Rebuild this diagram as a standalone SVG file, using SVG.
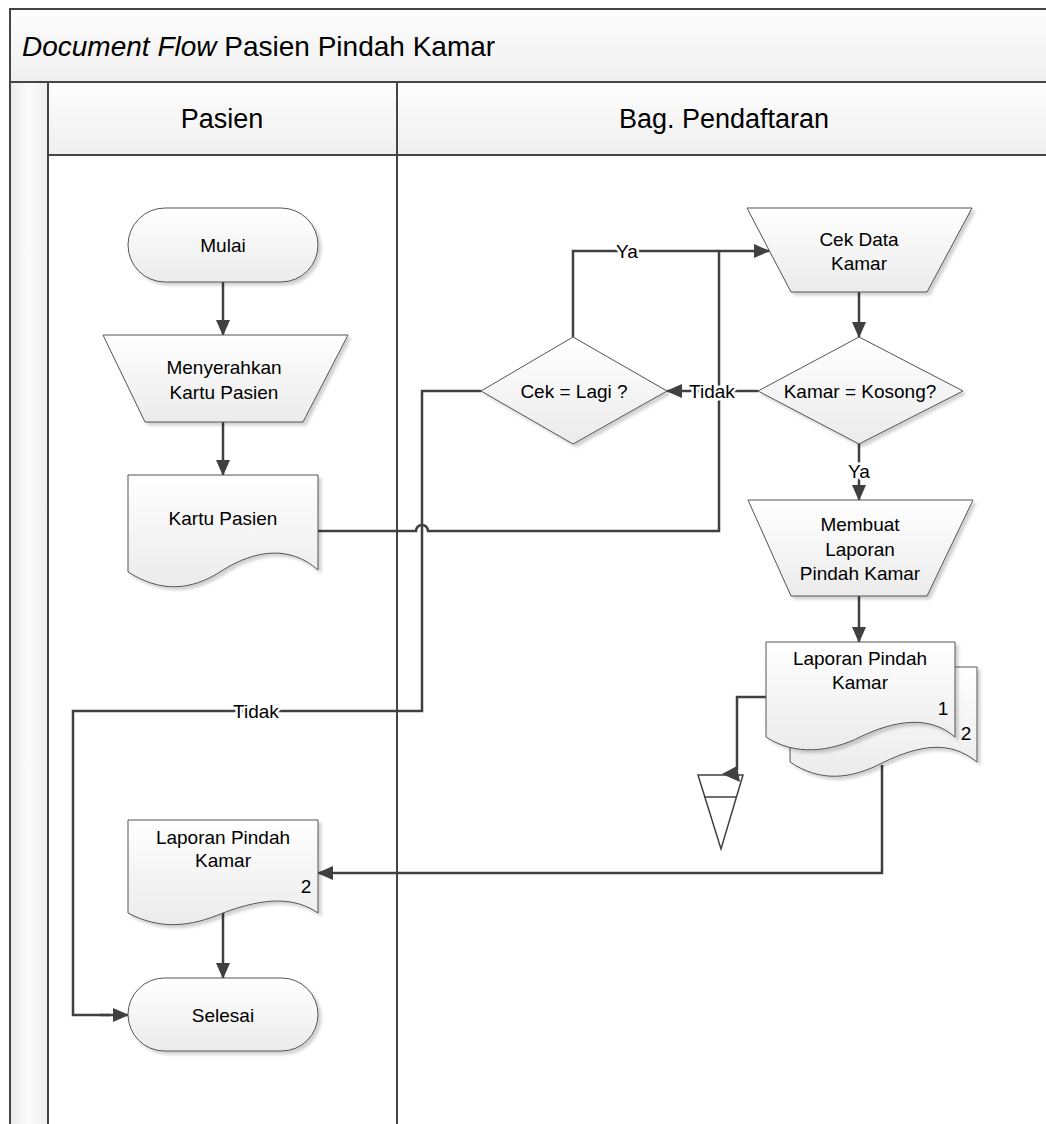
<svg xmlns="http://www.w3.org/2000/svg" width="1046" height="1124" viewBox="0 0 1046 1124">
<defs>
  <linearGradient id="gNode" x1="0" y1="0" x2="0" y2="1">
    <stop offset="0" stop-color="#ffffff"/>
    <stop offset="1" stop-color="#ebebeb"/>
  </linearGradient>
  <linearGradient id="gBand" x1="0" y1="0" x2="0" y2="1">
    <stop offset="0" stop-color="#fdfdfd"/>
    <stop offset="1" stop-color="#efefef"/>
  </linearGradient>
  <linearGradient id="gStrip" x1="0" y1="0" x2="1" y2="0">
    <stop offset="0" stop-color="#ebebeb"/>
    <stop offset="0.5" stop-color="#fbfbfb"/>
    <stop offset="1" stop-color="#efefef"/>
  </linearGradient>
  <filter id="shadow" x="-10%" y="-10%" width="125%" height="130%">
    <feDropShadow dx="3" dy="3" stdDeviation="1.5" flood-color="#000" flood-opacity="0.18"/>
  </filter>
  <marker id="arr" markerUnits="userSpaceOnUse" markerWidth="16" markerHeight="14" refX="15" refY="7" orient="auto">
    <path d="M0,0 L16,7 L0,14 z" fill="#404040"/>
  </marker>
  <style>
    .frame{fill:none;stroke:#454545;stroke-width:2}
    .node{fill:url(#gNode);stroke:#555;stroke-width:1;filter:url(#shadow)}
    .plain{fill:#fff;stroke:#404040;stroke-width:1.5}
    .conn{fill:none;stroke:#404040;stroke-width:2.5}
    .arrow{marker-end:url(#arr)}
    text{font-family:"Liberation Sans",Arial,sans-serif;fill:#000}
    .t{font-size:19px;text-anchor:middle;dominant-baseline:central}
    .lbl{font-size:19px;text-anchor:middle;dominant-baseline:central;paint-order:stroke;stroke:#fff;stroke-width:5}
    .hdr{font-size:27px;text-anchor:middle}
    .title{font-size:28px}
  </style>
</defs>

<g id="pool">
  <rect x="10" y="9" width="1046" height="73" fill="url(#gBand)"/>
  <rect x="48" y="82" width="1000" height="73" fill="url(#gBand)"/>
  <rect x="10" y="82" width="38" height="1050" fill="url(#gStrip)"/>
  <path class="frame" d="M10,1124 V9 H1046 M10,82 H1046 M48,155 H1046 M48,82 V1124 M397,82 V1124"/>
  <text class="title" x="22" y="56"><tspan font-style="italic">Document Flow</tspan> Pasien Pindah Kamar</text>
  <text class="hdr" x="222" y="128">Pasien</text>
  <text class="hdr" x="724" y="128">Bag. Pendaftaran</text>
</g>

<g id="connectors">
  <path class="conn arrow" d="M223,282 V335"/>
  <path class="conn arrow" d="M223,422 V475"/>
  <path class="conn arrow" d="M318,531 H416 A6,6 0 0 1 428,531 H719 V251 H769"/>
  <path class="conn" d="M573,337 V251 H719"/>
  <path class="conn arrow" d="M859,292 V337"/>
  <path class="conn arrow" d="M758,391 H667"/>
  <path class="conn arrow" d="M859,443 V500"/>
  <path class="conn arrow" d="M859,596 V642"/>
  <path class="conn" d="M766,697 H737 V770"/>
  <path class="conn arrow" d="M882,765 V873 H318"/>
  <path class="conn" d="M481,391 H422 V711 H73 V1015 H110"/>
  <path class="conn arrow" d="M100,1015 H128"/>
  <path class="conn arrow" d="M223,913 V978"/>
  <text class="lbl" x="627" y="251">Ya</text>
  <text class="lbl" x="712" y="391">Tidak</text>
  <text class="lbl" x="859" y="471">Ya</text>
  <text class="lbl" x="256" y="711">Tidak</text>
</g>

<g id="mulai">
  <rect class="node" x="128" y="208" width="190" height="74" rx="37" ry="37"/>
  <text class="t" x="223" y="245">Mulai</text>
</g>

<g id="menyerahkan">
  <polygon class="node" points="103,335 348,335 303,422 145,422"/>
  <text class="t" x="224" y="367">Menyerahkan</text>
  <text class="t" x="224" y="392">Kartu Pasien</text>
</g>

<g id="kartu-pasien">
  <path class="node" d="M128,475 H318 V570 C290,545 255,550 223,570 C190,592 160,592 128,572 Z"/>
  <text class="t" x="223" y="518">Kartu Pasien</text>
</g>

<g id="cek-lagi">
  <polygon class="node" points="573,337 667,391 573,444 481,391"/>
  <text class="t" x="574" y="391">Cek = Lagi ?</text>
</g>

<g id="cek-data-kamar">
  <polygon class="node" points="747,208 972,208 927,292 791,292"/>
  <text class="t" x="859" y="239">Cek Data</text>
  <text class="t" x="859" y="263">Kamar</text>
</g>

<g id="kamar-kosong">
  <polygon class="node" points="859,337 963,391 859,444 758,391"/>
  <text class="t" x="860" y="391">Kamar = Kosong?</text>
</g>

<g id="membuat-laporan">
  <polygon class="node" points="748,500 973,500 927,596 791,596"/>
  <text class="t" x="860" y="524">Membuat</text>
  <text class="t" x="860" y="549">Laporan</text>
  <text class="t" x="860" y="573">Pindah Kamar</text>
</g>

<g id="laporan-pindah-kamar">
  <path class="node" d="M790,667 H977 V762 C950,740 920,745 884,762 C850,780 820,782 790,762 Z"/>
  <path class="node" d="M766,642 H955 V737 C930,715 895,720 860,737 C830,752 795,756 766,737 Z"/>
  <text class="t" x="860" y="658">Laporan Pindah</text>
  <text class="t" x="860" y="682">Kamar</text>
  <text class="t" x="943" y="708">1</text>
  <text class="t" x="966" y="733">2</text>
</g>

<g id="arsip">
  <polygon class="plain" points="698,775 743,775 721,849"/>
  <line x1="704" y1="797" x2="737" y2="797" stroke="#404040" stroke-width="1.5"/>
  <polygon points="722,774 737,766 740,782" fill="#404040"/>
</g>

<g id="laporan-pasien">
  <path class="node" d="M128,820 H318 V913 C295,897 265,897 223,913 C190,927 160,930 128,913 Z"/>
  <text class="t" x="223" y="837">Laporan Pindah</text>
  <text class="t" x="223" y="860">Kamar</text>
  <text class="t" x="306" y="886">2</text>
</g>

<g id="selesai">
  <rect class="node" x="128" y="978" width="190" height="73" rx="36.5" ry="36.5"/>
  <text class="t" x="223" y="1015">Selesai</text>
</g>
</svg>
